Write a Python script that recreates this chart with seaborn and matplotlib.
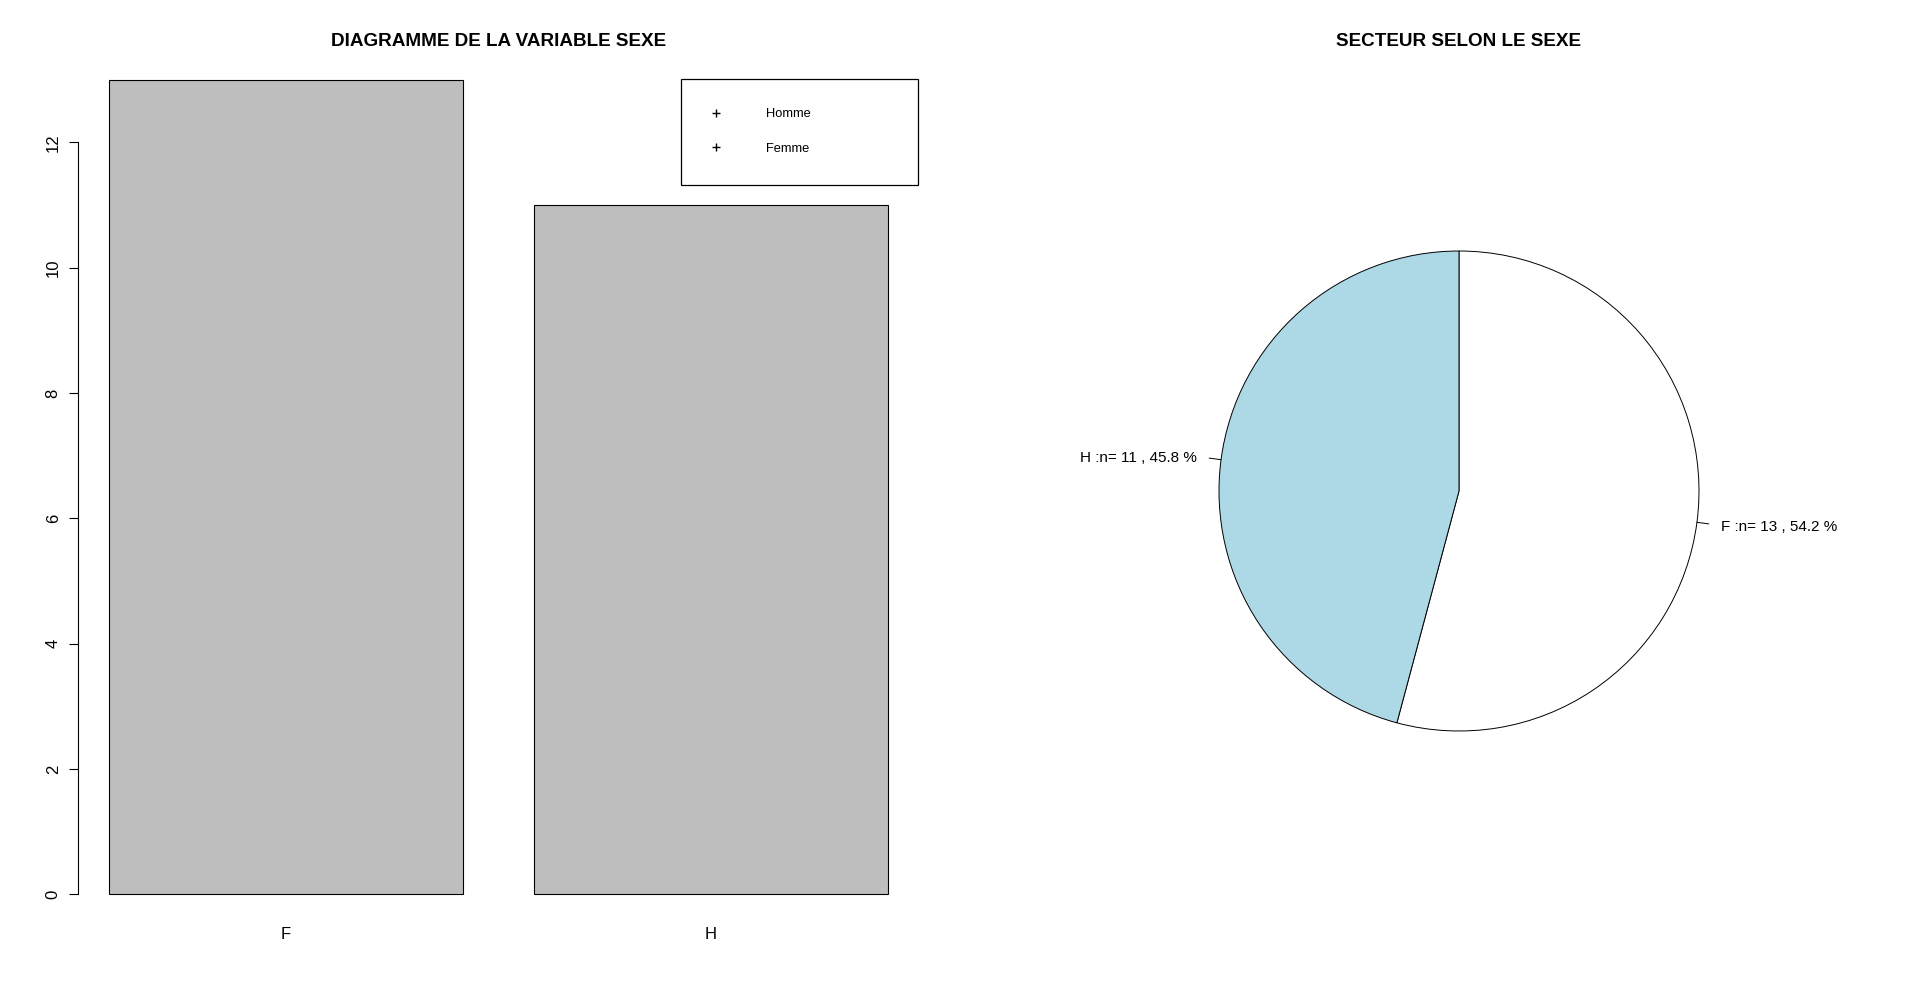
import matplotlib
matplotlib.use("Agg")
import matplotlib.pyplot as plt
from matplotlib.lines import Line2D
import numpy as np
import pandas as pd
import seaborn as sns

# donnees : effectifs par sexe
sexe = ["F", "H"]
effectifs = [13, 11]
legende_labels = ["Homme", "Femme"]
couleurs_secteur = ["white", "lightblue"]

sns.set_style("ticks")
plt.rcParams["font.family"] = ["Liberation Sans", "DejaVu Sans"]
plt.rcParams.update({"text.color": "black", "axes.edgecolor": "black",
                     "xtick.color": "black", "ytick.color": "black",
                     "axes.labelcolor": "black"})

data = pd.DataFrame({"sexe": sexe, "n": effectifs})
total = sum(effectifs)
etiquettes = [f"{s} :n= {n} , {round(n / total * 100, 1)} %" for s, n in zip(sexe, effectifs)]

fig = plt.figure(figsize=(19.2, 10.01), dpi=100)

# Diagramme en barres
ax1 = fig.add_axes([78 / 1920, 74 / 1001, 841 / 1920, 880 / 1001])
sns.barplot(data=data, x="sexe", y="n", color="#BEBEBE", saturation=1,
            width=1 / 1.2, edgecolor="black", linewidth=0.8, ax=ax1)
ax1.set_xlim(-0.49, 1.49)
ax1.set_ylim(-0.52, 13.52)
ax1.set_xlabel("")
ax1.set_ylabel("")
ax1.set_yticks(range(0, 13, 2))
ax1.tick_params(axis="y", length=6.5, width=0.8, pad=6, labelsize=12)
ax1.tick_params(axis="x", length=0, pad=-0.2, labelsize=12)
for lab in ax1.get_yticklabels():
    lab.set_rotation(90)
    lab.set_va("center")
for side in ["top", "right", "bottom"]:
    ax1.spines[side].set_visible(False)
ax1.spines["left"].set_bounds(0, 12)
ax1.spines["left"].set_linewidth(0.8)
ax1.text(0.5, 1.008, "DIAGRAMME DE LA VARIABLE SEXE", transform=ax1.transAxes,
         ha="center", va="center_baseline", fontsize=13.6, fontweight="bold")

handles = [Line2D([], [], marker="+", linestyle="none", color="black",
                  markersize=6, markeredgewidth=1) for _ in legende_labels]
leg = ax1.legend(handles, legende_labels, loc="upper left",
                 bbox_to_anchor=(0.717, 0.9640 - 0.12, 0.282, 0.12), mode="expand",
                 borderaxespad=0, fontsize=9.3, frameon=True, fancybox=False,
                 framealpha=1, edgecolor="black", borderpad=2.3, labelspacing=1.74,
                 handlelength=0.8, handletextpad=3.5)
leg.get_frame().set_linewidth(0.9)

# Secteur
ax2 = fig.add_axes([(1459 - 300) / 1920, (1001 - 491 - 300) / 1001, 600 / 1920, 600 / 1001])
wedges, textes = ax2.pie(effectifs, labels=etiquettes, colors=couleurs_secteur,
                         startangle=90, counterclock=False, labeldistance=1.1,
                         wedgeprops={"edgecolor": "black", "linewidth": 0.7},
                         textprops={"fontsize": 11, "va": "center_baseline"})
for w in wedges:
    a = np.deg2rad((w.theta1 + w.theta2) / 2)
    ax2.plot([np.cos(a), 1.05 * np.cos(a)], [np.sin(a), 1.05 * np.sin(a)],
             color="black", linewidth=0.7)
ax2.set_xlim(-1.25, 1.25)
ax2.set_ylim(-1.25, 1.25)
ax2.set_aspect("equal")
ax2.axis("off")
ax2.text(0.5, 1.2517, "SECTEUR SELON LE SEXE", transform=ax2.transAxes,
         ha="center", va="center_baseline", fontsize=13.6, fontweight="bold")

fig.savefig("out.png", dpi=100, facecolor="white")
